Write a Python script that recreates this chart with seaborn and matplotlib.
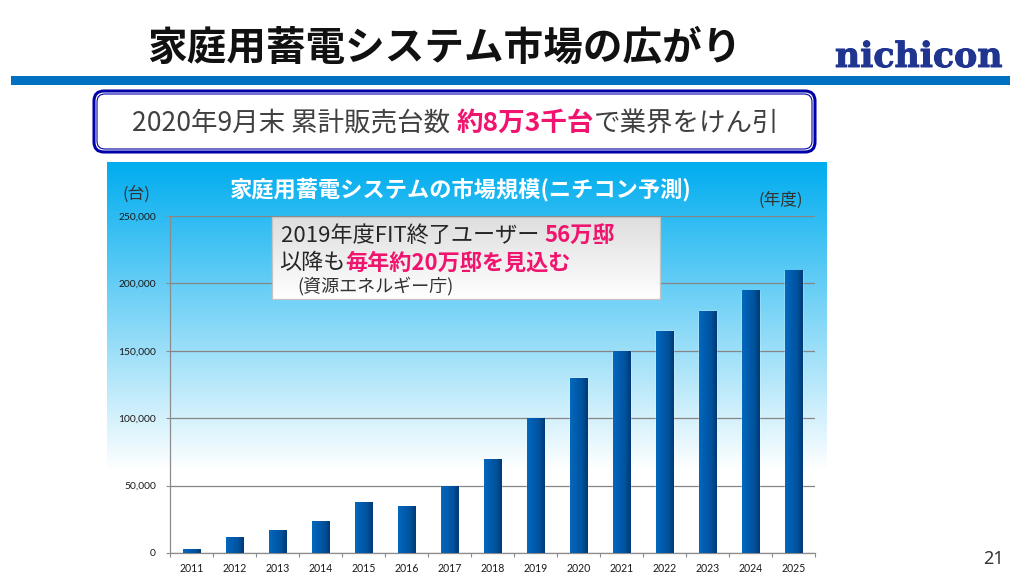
import numpy as np
import pandas as pd
import seaborn as sns
import matplotlib.pyplot as plt
import matplotlib.patheffects as pe
from matplotlib.colors import LinearSegmentedColormap
from matplotlib.patches import FancyBboxPatch, Rectangle

years = [str(y) for y in range(2011, 2026)]
units = [2500, 11500, 16500, 23500, 37500, 34500, 49500, 69500, 99500,
         129500, 149500, 164500, 179500, 194500, 209500]
y_ticks = [0, 50000, 100000, 150000, 200000, 250000]

slide_title = '家庭用蓄電システム市場の広がり'
chart_title = '家庭用蓄電システムの市場規模(ニチコン予測)'

sns.set_theme(style='white')
plt.rcParams['font.family'] = ['Noto Sans CJK JP', 'DejaVu Sans']

W, H = 1014, 575
fig = plt.figure(figsize=(W / 100, H / 100), dpi=100, facecolor='white')

# page level stuff is placed in pixels on an overlay
bg = fig.add_axes([0, 0, 1, 1], zorder=0)
bg.axis('off')

panel = LinearSegmentedColormap.from_list('panel', ['#00adef', '#ffffff'])
bg.imshow(np.linspace(0, 1, 256).reshape(-1, 1), cmap=panel, aspect='auto',
          extent=[107, 827, 470, 162], zorder=1)
bg.set_xlim(0, W)
bg.set_ylim(H, 0)
bg.add_patch(Rectangle((11, 76), 999, 9, color='#0070c0', lw=0))

# the chart itself
ax = fig.add_axes([170 / W, 1 - 553 / H, 645 / W, 337 / H], zorder=1)
ax.patch.set_alpha(0)
df = pd.DataFrame({'year': years, 'units': units})
sns.barplot(data=df, x='year', y='units', color='#0060b0', saturation=1,
            width=0.41, ax=ax, zorder=3)

bar_cmap = LinearSegmentedColormap.from_list(
    'bar', ['#0468bd', '#005cae', '#00539e', '#003a75'])
for p in ax.patches:
    x0, w, h = p.get_x(), p.get_width(), p.get_height()
    ax.imshow(np.linspace(0, 1, 64).reshape(1, -1), cmap=bar_cmap, aspect='auto',
              extent=[x0, x0 + w, 0, h], zorder=4)

ax.set_xlim(-0.5, len(years) - 0.5)
ax.set_ylim(0, 250000)
ax.set_yticks(y_ticks)
ax.set_yticklabels([f'{v:,}' for v in y_ticks], fontfamily='Lato', fontsize=7.4,
                   color='#1a1a1a')
ax.set_xticks(range(len(years)))
ax.set_xticklabels(years, fontfamily='Lato', fontsize=7.6, color='#1a1a1a')
ax.set_xticks(np.arange(-0.5, len(years)), minor=True)
ax.tick_params(axis='x', which='major', length=0, pad=7)
ax.tick_params(axis='x', which='minor', length=3, width=0.8, color='#8c8c8c', bottom=True)
ax.tick_params(axis='y', length=3, width=0.8, color='#8c8c8c', left=True, pad=7)
ax.set_xlabel('')
ax.set_ylabel('')
ax.grid(axis='y', color='#868686', lw=0.9, zorder=1)
ax.set_axisbelow(True)
sns.despine(ax=ax, top=True, right=True)
for s in ['left', 'bottom']:
    ax.spines[s].set_color('#8c8c8c')
    ax.spines[s].set_linewidth(0.9)

# overlay for the text boxes
top = fig.add_axes([0, 0, 1, 1], zorder=5)
top.axis('off')

# callout with a soft grey to white fill
callout = LinearSegmentedColormap.from_list('callout', ['#dedede', '#ffffff'])
top.imshow(np.linspace(0, 1, 128).reshape(-1, 1), cmap=callout, aspect='auto',
           extent=[272, 660, 299, 217], zorder=2)
top.set_xlim(0, W)
top.set_ylim(H, 0)
top.add_patch(Rectangle((272, 217), 388, 82, fc='none', ec='#c4c4c4', lw=0.9, zorder=3))


def runs(x, y, parts, size):
    # write coloured pieces one after another on the same baseline
    r = fig.canvas.get_renderer()
    for s, color, weight in parts:
        t = top.text(x, y, s, color=color, fontsize=size, fontweight=weight,
                     va='center', ha='left', zorder=4)
        x = top.transData.inverted().transform(t.get_window_extent(r))[1, 0]


top.text(444, 48, slide_title, fontsize=28.5, fontweight='bold', color='#111111',
         ha='center', va='center')
logo = top.text(918.5, 67, 'nichicon', fontfamily='DejaVu Serif', fontweight='bold',
                fontsize=25, color='#1f3590', ha='center', va='baseline')
logo.set_path_effects([pe.withStroke(linewidth=0.7, foreground='#1f3590')])

# double line box under the header
top.add_patch(FancyBboxPatch((94, 91), 721, 61, boxstyle='round,pad=0,rounding_size=10',
                             fc='white', ec='#0000a8', lw=2.2))
top.add_patch(FancyBboxPatch((97, 94), 715, 55, boxstyle='round,pad=0,rounding_size=8',
                             fc='white', ec='#0000a8', lw=0.8))
pink = '#f0146e'
grey = '#404040'
runs(132, 123, [('2020年9月末 累計販売台数 ', grey, 'normal'),
                ('約8万3千台', pink, 'bold'),
                ('で業界をけん引', grey, 'normal')], 19.1)

top.text(461, 190, chart_title, fontsize=16, fontweight='bold', color='white',
         ha='center', va='center')
top.text(136, 194, '(台)', fontsize=12, color='#333333', ha='center', va='center')
top.text(780.5, 200, '(年度)', fontsize=12, color='#333333', ha='center', va='center')

r_parts = [('2019年度FIT終了ユーザー ', '#262626', 'normal'), ('56万邸', pink, 'bold')]
runs(281, 236, r_parts, 15.95)
runs(279, 263, [('以降も', '#262626', 'normal'), ('毎年約20万邸を見込む', pink, 'bold')], 15.95)
top.text(297, 286, '(資源エネルギー庁)', fontsize=13, color='#333333', ha='left', va='center')

top.text(993, 559, '21', fontfamily='Noto Sans', fontsize=13, color='#333333',
         ha='center', va='center')

fig.savefig('out.png', dpi=100)
